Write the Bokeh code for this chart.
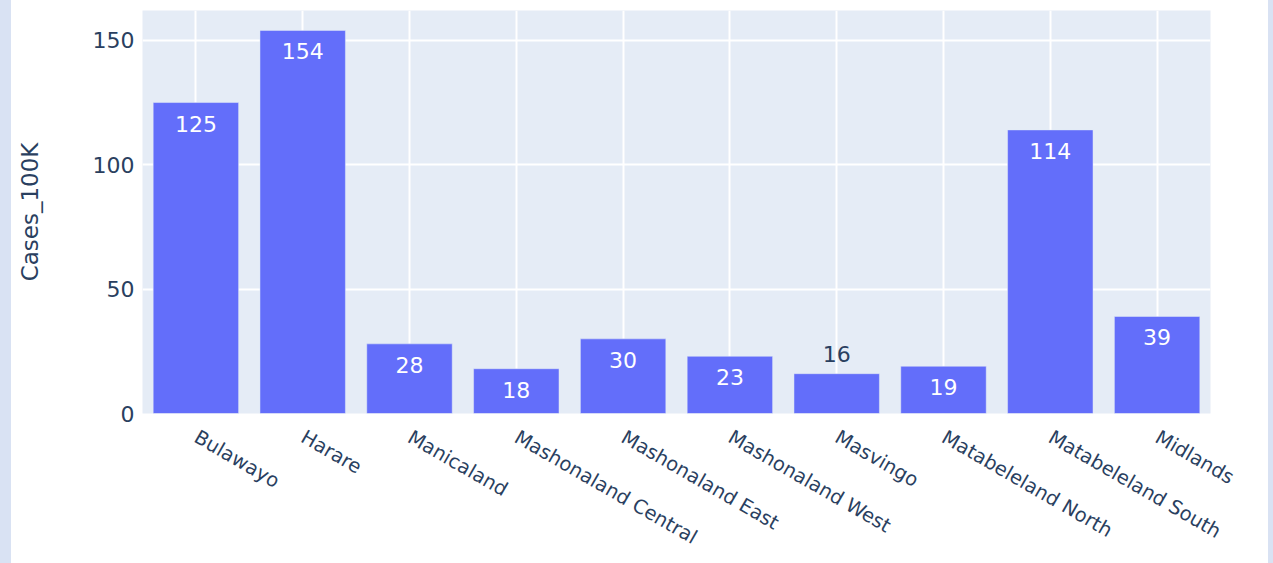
import math
from bokeh.plotting import figure
from bokeh.models import ColumnDataSource, FactorRange, Range1d, FixedTicker, LabelSet, Div
from bokeh.layouts import row
from bokeh.core.properties import value
from bokeh.embed import file_html
from bokeh.resources import INLINE

regions = ["Bulawayo", "Harare", "Manicaland", "Mashonaland Central",
           "Mashonaland East", "Mashonaland West", "Masvingo",
           "Matabeleland North", "Matabeleland South", "Midlands"]
cases = [125, 154, 28, 18, 30, 23, 16, 19, 114, 39]
y_ticks = [0, 50, 100, 150]
y_title = "Cases_100K"

BAR = "#636EFA"
BG = "#E5ECF6"
INK = "#2a3f5f"
STRIP = "#d9e2f3"
FONT = "DejaVu Sans"

Y_END = 162
FRAME_H = 403
px_per_unit = FRAME_H / Y_END

inside = [v * px_per_unit >= 42 for v in cases]
src_in = ColumnDataSource(dict(x=[r for r, f in zip(regions, inside) if f],
                               y=[v for v, f in zip(cases, inside) if f],
                               t=[str(v) for v, f in zip(cases, inside) if f]))
src_out = ColumnDataSource(dict(x=[r for r, f in zip(regions, inside) if not f],
                                y=[v for v, f in zip(cases, inside) if not f],
                                t=[str(v) for v, f in zip(cases, inside) if not f]))
src = ColumnDataSource(dict(x=regions, y=cases))

p = figure(x_range=FactorRange(*regions, range_padding=0),
           y_range=Range1d(0, Y_END),
           width=1257, height=563,
           output_backend="svg", toolbar_location=None,
           min_border_left=131, min_border_right=58,
           min_border_top=10, min_border_bottom=150)
p.margin = 0

p.background_fill_color = BG
p.border_fill_color = "white"
p.outline_line_color = None

p.vbar(x="x", top="y", width=0.8, source=src, fill_color=BAR,
       line_color=BG, line_width=0.5)

p.add_layout(LabelSet(x="x", y="y", text="t", source=src_in, text_color="white",
                      text_font=value(FONT), text_font_size=value("22px"),
                      text_align="center", text_baseline="top", y_offset=-13))
p.add_layout(LabelSet(x="x", y="y", text="t", source=src_out, text_color=INK,
                      text_font=value(FONT), text_font_size=value("22px"),
                      text_align="center", text_baseline="alphabetic", y_offset=12))

p.xgrid.grid_line_color = "white"
p.xgrid.grid_line_width = 2
p.ygrid.grid_line_color = "white"
p.ygrid.grid_line_width = 2
p.ygrid.ticker = FixedTicker(ticks=y_ticks)

p.yaxis.ticker = FixedTicker(ticks=y_ticks)
for ax in (p.xaxis, p.yaxis):
    ax.axis_line_color = None
    ax.major_tick_line_color = None
    ax.minor_tick_line_color = None
    ax.major_tick_out = 0
    ax.major_tick_in = 0
    ax.major_label_text_color = INK
    ax.major_label_text_font = FONT

p.yaxis.major_label_text_font_size = "22px"
p.yaxis.major_label_standoff = 8
p.yaxis.axis_label = y_title
p.yaxis.axis_label_text_font = FONT
p.yaxis.axis_label_text_font_size = "23px"
p.yaxis.axis_label_text_font_style = "normal"
p.yaxis.axis_label_text_color = INK
p.yaxis.axis_label_standoff = 47

p.xaxis.major_label_orientation = -math.pi / 6
p.xaxis.major_label_text_font_size = "19.5px"
p.xaxis.major_label_standoff = 22

left_strip = Div(text="", width=11, height=563, margin=0,
                 styles={"background-color": STRIP})
right_strip = Div(text="", width=5, height=563, margin=0,
                  styles={"background-color": STRIP})
layout = row(left_strip, p, right_strip, spacing=0, margin=0)

open("out.html", "w").write(file_html(layout, INLINE))
